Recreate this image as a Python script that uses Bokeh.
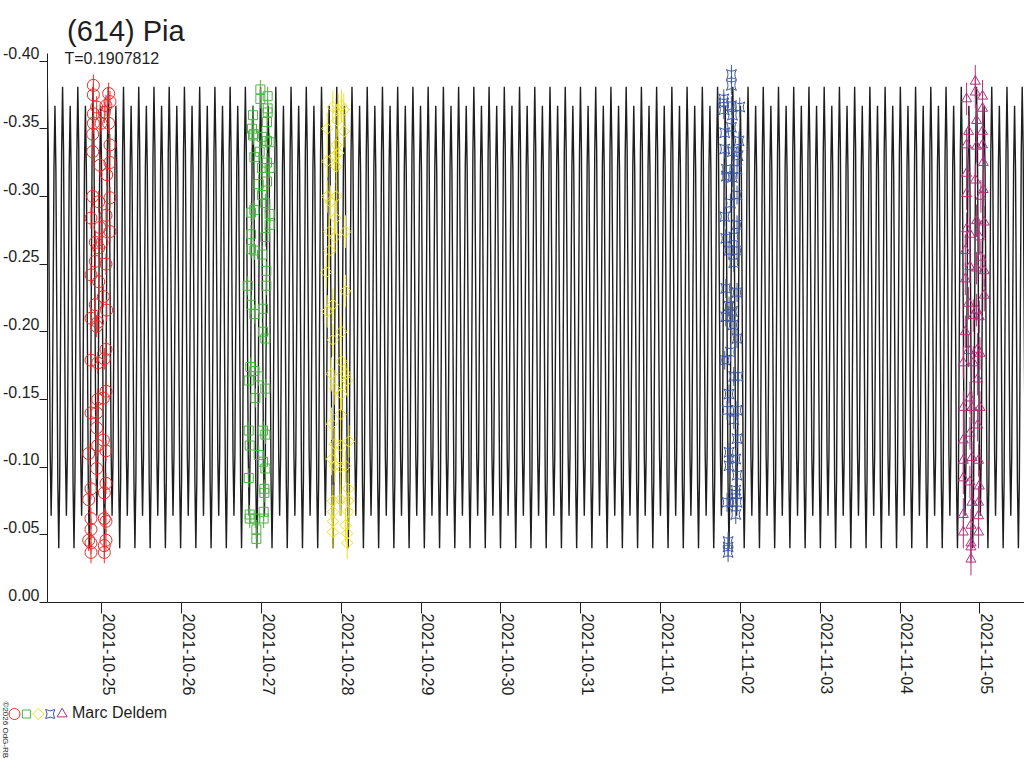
import numpy as np
import pandas as pd
from bokeh.plotting import figure
from bokeh.layouts import column
from bokeh.models import Range1d, LinearAxis, FixedTicker, Label
from bokeh.embed import file_html
from bokeh.resources import INLINE

TITLE = "(614) Pia"
PERIOD = 0.1907812  # days
OBSERVER = "Marc Deldem"
CREDIT = "\u00a92026 OdG-RB"

# model curve: one rotation in 16 equal phase steps, starting at the brighter maximum
CURVE_EPOCH = "2021-10-29 06:43"
CURVE_PROFILE = [-0.381, -0.335, -0.222, -0.110, -0.064, -0.108, -0.216, -0.323,
                 -0.367, -0.319, -0.203, -0.088, -0.040, -0.090, -0.210, -0.332]

DATE_LABELS = ["2021-10-25", "2021-10-26", "2021-10-27", "2021-10-28", "2021-10-29",
               "2021-10-30", "2021-10-31", "2021-11-01", "2021-11-02", "2021-11-03",
               "2021-11-04", "2021-11-05"]
Y_TICKS = [-0.40, -0.35, -0.30, -0.25, -0.20, -0.15, -0.10, -0.05, 0.00]
Y_LABELS = ["-0.40", "-0.35", "-0.30", "-0.25", "-0.20", "-0.15", "-0.10", "-0.05", "0.00"]

# sessions: (offset in days from the date, magnitude)
red_date = "2021-10-25"
red_err = 0.008
red_obs = [(-0.104, -0.382), (-0.104, -0.375), (0.0875, -0.376), (0.104, -0.370), (-0.0625, -0.366),
           (0.054, -0.367), (-0.104, -0.361), (0.033, -0.362), (-0.008, -0.354), (0.0875, -0.354),
           (-0.104, -0.354), (-0.1125, -0.346), (0.104, -0.338), (-0.1125, -0.333), (-0.021, -0.323),
           (0.104, -0.325), (0.0625, -0.316), (-0.1125, -0.300), (-0.0375, -0.296), (0.104, -0.299),
           (-0.134, -0.284), (0.054, -0.286), (-0.021, -0.277), (0.104, -0.274), (-0.079, -0.266),
           (-0.0375, -0.262), (0.004, -0.266), (-0.079, -0.252), (0.054, -0.250), (-0.134, -0.242),
           (-0.0375, -0.237), (0.021, -0.226), (-0.079, -0.220), (0.0625, -0.216), (-0.134, -0.210),
           (-0.05, -0.207), (-0.0625, -0.204), (0.054, -0.187), (-0.134, -0.179), (-0.05, -0.177),
           (0.033, -0.180), (0.054, -0.156), (-0.05, -0.150), (0.021, -0.151), (-0.134, -0.140),
           (-0.0625, -0.140), (-0.0625, -0.129), (0.021, -0.120), (-0.1625, -0.110), (-0.05, -0.116),
           (0.054, -0.112), (-0.0625, -0.099), (-0.134, -0.084), (0.054, -0.088), (0.033, -0.081),
           (-0.1625, -0.076), (-0.134, -0.062), (0.033, -0.062), (0.054, -0.060), (-0.134, -0.054),
           (-0.1625, -0.046), (0.054, -0.046), (-0.134, -0.044), (0.033, -0.042), (-0.134, -0.037),
           (0.033, -0.037)]

green_date = "2021-10-27"
green_err = 0.007
green_obs = [(-0.0125, -0.379), (-0.0125, -0.372), (0.079, -0.374), (0.079, -0.365), (0.079, -0.362),
             (-0.104, -0.360), (-0.117, -0.350), (-0.096, -0.346), (-0.104, -0.345), (0.071, -0.355),
             (0.008, -0.344), (0.071, -0.341), (0.104, -0.340), (-0.0875, -0.329), (-0.021, -0.333),
             (0.008, -0.321), (0.104, -0.321), (0.071, -0.325), (0.071, -0.311), (-0.033, -0.309),
             (0.008, -0.301), (0.05, -0.295), (-0.129, -0.288), (-0.0875, -0.290), (0.104, -0.287),
             (0.104, -0.279), (-0.129, -0.272), (0.05, -0.270), (-0.129, -0.261), (-0.0875, -0.260),
             (0.008, -0.257), (0.0625, -0.245), (-0.171, -0.234), (0.0625, -0.234), (-0.129, -0.220),
             (-0.0875, -0.213), (0.021, -0.217), (0.021, -0.200), (0.05, -0.195), (-0.1375, -0.174),
             (-0.0875, -0.171), (-0.033, -0.167), (-0.158, -0.164), (0.05, -0.158), (-0.075, -0.151),
             (-0.158, -0.127), (0.021, -0.127), (0.05, -0.124), (-0.146, -0.116), (-0.033, -0.109),
             (0.021, -0.104), (0.05, -0.099), (-0.158, -0.092), (0.0375, -0.084), (0.0375, -0.081),
             (-0.146, -0.065), (-0.146, -0.062), (-0.075, -0.062), (0.029, -0.067), (0.029, -0.062),
             (-0.0625, -0.054), (-0.0625, -0.047)]

yellow_date = "2021-10-28"
yellow_err = 0.012
yellow_obs = [(-0.104, -0.366), (-0.0375, -0.364), (0.033, -0.364), (0.004, -0.367), (-0.05, -0.356),
              (-0.175, -0.350), (0.033, -0.348), (-0.0625, -0.338), (-0.0375, -0.332), (-0.175, -0.326),
              (-0.079, -0.330), (-0.0625, -0.322), (-0.175, -0.300), (-0.0625, -0.300), (-0.134, -0.296),
              (-0.071, -0.284), (0.054, -0.274), (-0.146, -0.274), (-0.079, -0.270), (-0.146, -0.260),
              (-0.1875, -0.244), (0.054, -0.230), (-0.104, -0.220), (-0.175, -0.215), (0.004, -0.200),
              (-0.104, -0.194), (0.004, -0.178), (-0.121, -0.169), (0.054, -0.169), (0.075, -0.164),
              (-0.079, -0.158), (0.004, -0.154), (-0.008, -0.139), (-0.121, -0.132), (-0.079, -0.117),
              (0.096, -0.119), (-0.008, -0.116), (-0.121, -0.106), (-0.079, -0.101), (0.054, -0.101),
              (-0.008, -0.100), (0.0875, -0.084), (-0.104, -0.075), (-0.008, -0.076), (0.0875, -0.075),
              (-0.104, -0.067), (0.0875, -0.067), (-0.104, -0.060), (0.054, -0.057), (-0.104, -0.052),
              (0.075, -0.051), (0.075, -0.044)]

blue_date = "2021-11-02"
blue_err = 0.007
blue_obs = [(-0.1125, -0.390), (-0.1125, -0.382), (-0.208, -0.372), (-0.208, -0.369), (-0.1125, -0.367),
            (-0.008, -0.366), (-0.208, -0.364), (-0.1, -0.360), (-0.1125, -0.351), (-0.196, -0.347),
            (-0.017, -0.341), (-0.196, -0.335), (-0.1, -0.333), (-0.029, -0.330), (-0.175, -0.320),
            (-0.042, -0.320), (-0.175, -0.315), (-0.1, -0.314), (-0.042, -0.301), (-0.125, -0.295),
            (-0.196, -0.285), (-0.042, -0.279), (-0.183, -0.269), (-0.083, -0.270), (-0.142, -0.260),
            (-0.042, -0.260), (-0.083, -0.251), (-0.183, -0.232), (-0.042, -0.229), (-0.142, -0.219),
            (-0.1, -0.215), (-0.183, -0.211), (-0.092, -0.205), (-0.042, -0.195), (-0.125, -0.185),
            (-0.196, -0.179), (-0.083, -0.167), (-0.029, -0.167), (-0.142, -0.154), (-0.167, -0.142),
            (-0.042, -0.142), (-0.083, -0.135), (-0.042, -0.121), (-0.142, -0.111), (-0.058, -0.106),
            (-0.142, -0.101), (-0.042, -0.094), (-0.058, -0.083), (-0.058, -0.080), (-0.167, -0.074),
            (-0.1, -0.074), (-0.042, -0.074), (-0.058, -0.065), (-0.154, -0.045), (-0.154, -0.041),
            (-0.154, -0.037)]

magenta_date = "2021-11-05"
magenta_err = 0.012
magenta_obs = [(-0.058, -0.385), (-0.167, -0.372), (-0.058, -0.377), (0.033, -0.374), (0.033, -0.365),
               (-0.042, -0.356), (-0.142, -0.348), (0.033, -0.348), (-0.167, -0.338), (-0.042, -0.337),
               (0.033, -0.338), (0.042, -0.325), (-0.167, -0.317), (-0.058, -0.312), (-0.167, -0.302),
               (0.042, -0.305), (0.0125, -0.300), (-0.042, -0.282), (-0.167, -0.276), (-0.125, -0.272),
               (0.054, -0.281), (-0.008, -0.270), (-0.183, -0.260), (0.0125, -0.255), (-0.125, -0.248),
               (-0.042, -0.247), (0.054, -0.245), (-0.183, -0.239), (0.054, -0.227), (-0.142, -0.221),
               (-0.042, -0.216), (-0.083, -0.212), (-0.008, -0.211), (-0.183, -0.200), (-0.142, -0.186),
               (-0.029, -0.187), (-0.208, -0.177), (-0.083, -0.177), (0.0, -0.184), (-0.029, -0.165),
               (-0.125, -0.151), (-0.208, -0.144), (-0.1, -0.144), (0.0, -0.144), (-0.029, -0.131),
               (-0.125, -0.125), (-0.208, -0.120), (-0.1, -0.107), (-0.208, -0.105), (-0.017, -0.105),
               (-0.208, -0.092), (-0.125, -0.089), (-0.008, -0.086), (-0.1, -0.074), (-0.017, -0.074),
               (-0.208, -0.065), (-0.017, -0.064), (-0.1125, -0.057), (-0.208, -0.052), (-0.017, -0.052),
               (-0.1125, -0.044), (-0.1125, -0.041), (-0.1125, -0.032)]

FONT = "Liberation Sans"
INK = "#1e1e1e"

# main plot: frame runs from the top of the page down to the 0.00 line
p = figure(width=1024, height=700, x_axis_location=None, y_axis_location=None,
           x_range=Range1d(pd.Timestamp("2021-10-24 07:43"), pd.Timestamp("2021-11-05 13:24")),
           y_range=Range1d(0.0, -0.4447),
           min_border_left=45, min_border_right=0, min_border_top=0, min_border_bottom=98,
           toolbar_location=None, output_backend="svg")
p.outline_line_color = None
p.grid.visible = False

# model lightcurve, repeated with the period
n = np.arange(-27 * 16, 40 * 16)
curve_t = pd.Timestamp(CURVE_EPOCH) + pd.to_timedelta(n * PERIOD / 16, unit="D")
curve_m = np.array(CURVE_PROFILE)[n % 16]
p.line(curve_t.values, curve_m, line_color=INK, line_width=1.4)

# (date, observations, error, marker, colour, size, angle, size in the key)
sessions = [
    (red_date, red_obs, red_err, "circle", "#ee2a2a", 12, 0.0, 11),
    (green_date, green_obs, green_err, "square", "#4cb444", 9, 0.0, 8),
    (yellow_date, yellow_obs, yellow_err, "square", "#efe21a", 8, np.pi / 4, 8),
    (blue_date, blue_obs, blue_err, "square_pin", "#3a57a6", 10, 0.0, 9),
    (magenta_date, magenta_obs, magenta_err, "triangle", "#b4307c", 10, 0.0, 10),
]
for date, obs, err, marker, color, size, angle, _ in sessions:
    dt, mag = zip(*obs)
    t = (pd.Timestamp(date) + pd.to_timedelta(np.array(dt), unit="D")).values
    mag = np.array(mag)
    p.segment(x0=t, y0=mag - err, x1=t, y1=mag + err, line_color=color, line_width=1)
    p.scatter(t, mag, marker=marker, size=size, angle=angle, fill_color=None,
              line_color=color, line_width=1)

# y axis: tick marks (minor ticks) with labels just above them
y_shift = [round(v - 0.0057, 4) for v in Y_TICKS]
y_axis = LinearAxis(ticker=FixedTicker(ticks=y_shift, minor_ticks=Y_TICKS),
                    bounds=(-0.4058, 0.0),
                    major_label_overrides=dict(zip(y_shift, Y_LABELS)),
                    major_tick_out=0, major_tick_in=0, major_tick_line_color=None,
                    minor_tick_out=8, minor_tick_in=0, minor_tick_line_color=INK,
                    axis_line_color=INK, major_label_standoff=0,
                    major_label_text_font=FONT, major_label_text_font_size="16px",
                    major_label_text_color=INK)
p.add_layout(y_axis, "left")

# x axis: day ticks, rotated date labels hanging to the right of each tick
days = pd.to_datetime(DATE_LABELS)
day_ms = [float(d.value // 10**6) for d in days]
lab_ms = [v + 0.09 * 86400000 for v in day_ms]
x_axis = LinearAxis(ticker=FixedTicker(ticks=lab_ms, minor_ticks=day_ms),
                    major_label_overrides=dict(zip(lab_ms, DATE_LABELS)),
                    major_tick_out=0, major_tick_in=0, major_tick_line_color=None,
                    minor_tick_out=11, minor_tick_in=0, minor_tick_line_color=INK,
                    axis_line_color=INK, major_label_standoff=0,
                    major_label_orientation=-np.pi / 2,
                    major_label_text_font=FONT, major_label_text_font_size="16px",
                    major_label_text_color=INK)
p.add_layout(x_axis, "below")

p.add_layout(Label(x=19.5, y=572, x_units="screen", y_units="screen", text=TITLE,
                   text_font=FONT, text_font_size="29px", text_color=INK,
                   text_baseline="middle"))
p.add_layout(Label(x=17, y=543.6, x_units="screen", y_units="screen",
                   text="T=" + str(PERIOD), text_font=FONT, text_font_size="16px",
                   text_color=INK, text_baseline="middle"))

# footer strip in pixel units: observer key and credit
foot = figure(width=1024, height=68, x_range=Range1d(0, 1024), y_range=Range1d(68, 0),
              x_axis_location=None, y_axis_location=None, min_border=0,
              toolbar_location=None, output_backend="svg")
foot.outline_line_color = None
foot.grid.visible = False
for fig in (p, foot):
    if "frame_align" in fig.properties():
        fig.frame_align = False

for i, (date, obs, err, marker, color, size, angle, key_size) in enumerate(sessions):
    foot.scatter(x=[14 + 11.9 * i], y=[13.5], marker=marker, size=key_size, angle=angle,
                 fill_color=None, line_color=color, line_width=1)
foot.add_layout(Label(x=71.5, y=56, x_units="screen", y_units="screen", text=OBSERVER,
                      text_font=FONT, text_font_size="16px", text_color=INK,
                      text_baseline="middle"))
foot.add_layout(Label(x=4.5, y=67, x_units="screen", y_units="screen", text=CREDIT,
                      angle=-np.pi / 2, text_font=FONT, text_font_size="8px", text_color=INK,
                      text_baseline="middle", text_align="left"))

page = column(p, foot, spacing=0)
open("out.html", "w").write(file_html(page, INLINE))
